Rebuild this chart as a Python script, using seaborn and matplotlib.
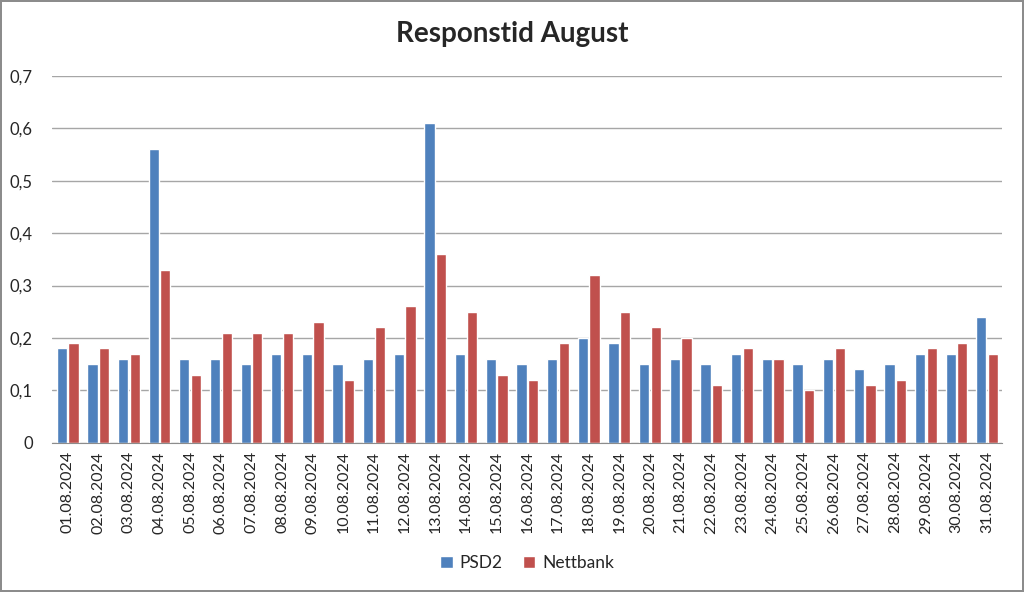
import pandas as pd
import numpy as np
import matplotlib
matplotlib.use("Agg")
import matplotlib.pyplot as plt
from matplotlib.ticker import FuncFormatter, FixedLocator
import seaborn as sns

# values
dates = ["%02d.08.2024" % d for d in range(1, 32)]
psd2 = [0.18, 0.15, 0.16, 0.56, 0.16, 0.16, 0.15, 0.17, 0.17, 0.15, 0.16,
        0.17, 0.61, 0.17, 0.16, 0.15, 0.16, 0.20, 0.19, 0.15, 0.16, 0.15,
        0.17, 0.16, 0.15, 0.16, 0.14, 0.15, 0.17, 0.17, 0.24]
nettbank = [0.19, 0.18, 0.17, 0.33, 0.13, 0.21, 0.21, 0.21, 0.23, 0.12, 0.22,
            0.26, 0.36, 0.25, 0.13, 0.12, 0.19, 0.32, 0.25, 0.22, 0.20, 0.11,
            0.18, 0.16, 0.10, 0.18, 0.11, 0.12, 0.18, 0.19, 0.17]
series = ["PSD2", "Nettbank"]

df = pd.DataFrame({"dato": dates * 2,
                   "verdi": psd2 + nettbank,
                   "serie": [series[0]] * len(dates) + [series[1]] * len(dates)})

sns.set_style("white")
plt.rcParams["font.family"] = ["Lato", "DejaVu Sans"]

fig = plt.figure(figsize=(10.24, 5.92), dpi=100, linewidth=1.5, edgecolor="#8c8c8c")
ax = fig.add_axes([0.051, 0.252, 0.928, 0.62])

sns.barplot(data=df, x="dato", y="verdi", hue="serie",
            palette=["#4F81BD", "#C0504D"], width=0.76, gap=0.12,
            saturation=1, ax=ax)

ax.set_ylim(0, 0.7)
ax.set_yticks(np.arange(0, 0.71, 0.1))
ax.yaxis.set_major_formatter(FuncFormatter(lambda v, p: ("%.1f" % v).replace(".", ",") if v > 0.001 else "0"))
ax.yaxis.grid(True, color="#a6a6a6", linewidth=1)
ax.set_axisbelow(True)
ax.set_xlim(-0.5, len(dates) - 0.5)
ax.tick_params(axis="y", length=0, labelsize=12, pad=14)
ax.tick_params(axis="x", labelrotation=90, labelsize=11.5, length=0, pad=6)
ax.xaxis.set_minor_locator(FixedLocator(np.arange(-0.5, len(dates), 1)))
ax.tick_params(axis="x", which="minor", length=5, color="#8c8c8c")
for s in ["top", "right", "left"]:
    ax.spines[s].set_visible(False)
ax.spines["bottom"].set_color("#8c8c8c")
ax.set_xlabel("")
ax.set_ylabel("")

ax.legend(title=None, loc="center", bbox_to_anchor=(0.5, -0.327), ncol=2,
          frameon=False, fontsize=12.5, handlelength=0.7, handleheight=0.7,
          handletextpad=0.4, columnspacing=1.2)

fig.suptitle("Responstid August", fontsize=20, fontweight="bold", y=0.965)

fig.savefig("out.png", dpi=100)
